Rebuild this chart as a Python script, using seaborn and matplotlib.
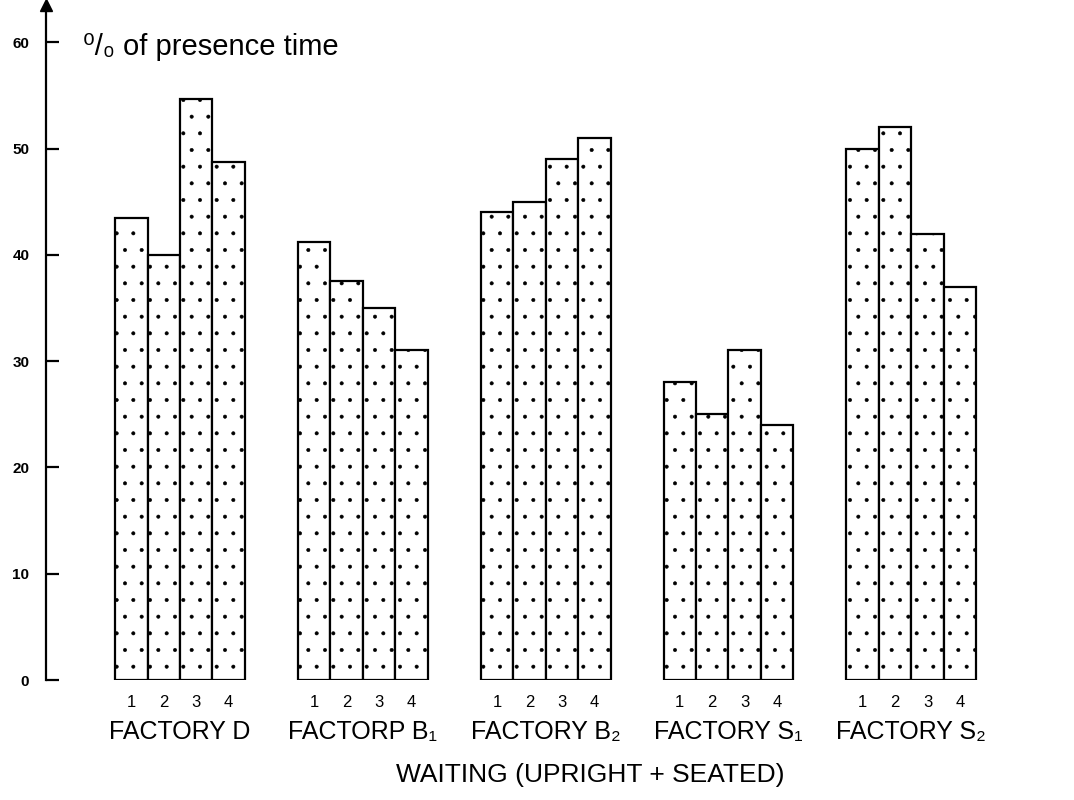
import pandas as pd
import numpy as np
import matplotlib.pyplot as plt
import matplotlib.transforms as mtransforms
import seaborn as sns

# Values (% of presence time)
factories = ["FACTORY D", "FACTORP B\u2081", "FACTORY B\u2082", "FACTORY S\u2081", "FACTORY S\u2082"]
subgroups = ["1", "2", "3", "4"]
factory_d = [43.5, 40.0, 54.7, 48.7]
factory_b1 = [41.2, 37.5, 35.0, 31.0]
factory_b2 = [44.0, 45.0, 49.0, 51.0]
factory_s1 = [28.0, 25.0, 31.0, 24.0]
factory_s2 = [50.0, 52.0, 42.0, 37.0]
y_ticks = [0, 10, 20, 30, 40, 50, 60]

values = [factory_d, factory_b1, factory_b2, factory_s1, factory_s2]
rows = []
for name, vals in zip(factories, values):
    for sub, v in zip(subgroups, vals):
        rows.append({"factory": name, "sub": sub, "value": v})
df = pd.DataFrame(rows)

sns.set_style("white")
plt.rcParams["font.family"] = ["Liberation Sans", "DejaVu Sans"]
plt.rcParams["text.color"] = "black"
plt.rcParams["xtick.color"] = "black"
plt.rcParams["ytick.color"] = "black"
plt.rcParams["hatch.linewidth"] = 0.4

fig = plt.figure(figsize=(10.74, 8), dpi=100)
ax = fig.add_axes([46 / 1074, 120 / 800, 1 - 46 / 1074, 675 / 800])

sns.barplot(data=df, x="factory", y="value", hue="sub", order=factories,
            hue_order=subgroups, palette=["white"] * 4, edgecolor="black",
            linewidth=1.6, width=0.71, gap=0, legend=False, ax=ax)

# stipple the bars
for bar in ax.patches:
    bar.set_hatch(".")
    bar.set_facecolor("white")
    bar.set_edgecolor("black")

ax.set_ylim(0, 63.5)
ax.set_xlim(-0.733, 4.89)

# number each bar under its base
centers, labels = [], []
for sub, cont in zip(subgroups, ax.containers):
    for bar in cont:
        centers.append(bar.get_x() + bar.get_width() / 2)
        labels.append(sub)
ax.set_xticks(centers)
ax.set_xticklabels(labels, fontsize=12)
ax.tick_params(axis="x", length=0, pad=11)

ax.set_yticks(y_ticks)
ax.set_yticklabels([str(t) for t in y_ticks], fontsize=11, fontweight="bold")
ax.tick_params(axis="y", left=True, direction="in", length=9, width=1.6, pad=12)

ax.set_xlabel("")
ax.set_ylabel("")
for side in ["top", "right", "bottom"]:
    ax.spines[side].set_visible(False)
ax.spines["left"].set_linewidth(1.6)
ax.spines["left"].set_color("black")

# arrow head on the y axis
ax.plot([0], [1.0], marker="^", markersize=8, color="black",
        transform=ax.transAxes, clip_on=False)

# factory names below each group
trans = mtransforms.blended_transform_factory(ax.transData, ax.transAxes)
for i, name in enumerate(factories):
    ax.text(i, -0.077, name, transform=trans, ha="center", va="center", fontsize=18)

ax.text(85 / 1074 - 46 / 1074, 1 - 42 / 675, "\u2070/\u2080 of presence time",
        transform=ax.transAxes, ha="left", va="center", fontsize=21)

fig.text(590 / 1074, 1 - 775 / 800, "WAITING (UPRIGHT + SEATED)",
         ha="center", va="center", fontsize=19)

plt.savefig("out.png", dpi=100)
